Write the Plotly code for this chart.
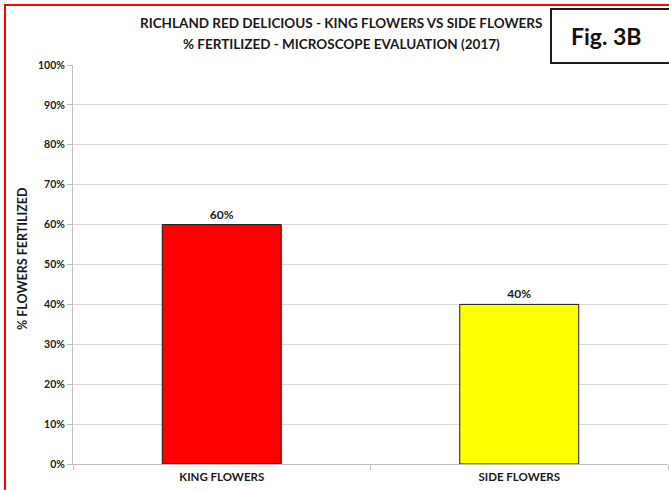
import plotly.graph_objects as go

categories = ["KING FLOWERS", "SIDE FLOWERS"]
pct_fertilized = [60, 40]
bar_colors = ["#ff0000", "#ffff00"]
y_ticks = [0, 10, 20, 30, 40, 50, 60, 70, 80, 90, 100]
title_lines = ["RICHLAND RED DELICIOUS - KING FLOWERS VS SIDE FLOWERS",
               "% FERTILIZED - MICROSCOPE EVALUATION (2017)"]
y_title = "% FLOWERS FERTILIZED"
fig_label = "Fig. 3B"

FONT = "Lato, 'Open Sans', Arial, sans-serif"
W, H = 669, 490
L, R, T, B = 73, 1, 65, 26
PW, PH = W - L - R, H - T - B


def px(x):
    return (x - L) / PW


def py(y):
    return (H - B - y) / PH


fig = go.Figure()
fig.add_trace(go.Bar(
    x=categories, y=pct_fertilized,
    marker=dict(color=bar_colors, line=dict(color="#1a1a1a", width=1)),
    width=0.40,
    text=[f"{v}%" for v in pct_fertilized],
    textposition="outside",
    textfont=dict(family=FONT, size=12, color="#1a1a1a", weight="bold"),
    cliponaxis=False,
    hoverinfo="skip",
))

shapes = [
    # red outer border
    dict(type="rect", xref="paper", yref="paper",
         x0=px(5), x1=px(720), y0=py(520), y1=py(5),
         line=dict(color="#ff0000", width=2), fillcolor="rgba(0,0,0,0)", layer="above"),
    # fig label box
    dict(type="rect", xref="paper", yref="paper",
         x0=px(551), x1=px(700), y0=py(63), y1=py(9),
         line=dict(color="#1a1a1a", width=2), fillcolor="white", layer="above"),
]

annotations = [
    dict(text=title_lines[0], x=px(341), y=py(23), xref="paper", yref="paper",
         showarrow=False, xanchor="center", yanchor="middle",
         font=dict(family=FONT, size=13.5, color="#1a1a1a", weight="bold")),
    dict(text=title_lines[1], x=px(341), y=py(44), xref="paper", yref="paper",
         showarrow=False, xanchor="center", yanchor="middle",
         font=dict(family=FONT, size=13.5, color="#1a1a1a", weight="bold")),
    dict(text=fig_label, x=px(606), y=py(36), xref="paper", yref="paper",
         showarrow=False, xanchor="center", yanchor="middle",
         font=dict(family=FONT, size=23, color="#111111", weight="bold")),
    dict(text=y_title, x=px(22), y=py(259), xref="paper", yref="paper",
         showarrow=False, xanchor="center", yanchor="middle", textangle=-90,
         font=dict(family=FONT, size=12.5, color="#1a1a1a", weight="bold")),
]

fig.update_layout(
    width=W, height=H,
    margin=dict(l=L, r=R, t=T, b=B, pad=0),
    paper_bgcolor="white", plot_bgcolor="white",
    showlegend=False,
    bargap=0.6,
    shapes=shapes,
    annotations=annotations,
    xaxis=dict(
        type="category", tickson="boundaries",
        showline=True, linecolor="#bfbfbf", linewidth=1,
        ticks="outside", ticklen=5, tickcolor="#bfbfbf",
        showgrid=False, zeroline=False,
        tickfont=dict(family=FONT, size=11.5, color="#1a1a1a", weight="bold"),
        ticklabelstandoff=2,
        fixedrange=True,
    ),
    yaxis=dict(
        range=[0, 100], tickvals=y_ticks,
        ticktext=[f"{v}%" for v in y_ticks],
        showline=True, linecolor="#bfbfbf", linewidth=1,
        ticks="outside", ticklen=5, tickcolor="#bfbfbf",
        showgrid=True, gridcolor="#d9d9d9", gridwidth=1,
        zeroline=False,
        tickfont=dict(family=FONT, size=10.5, color="#1a1a1a", weight="bold"),
        fixedrange=True,
    ),
)

fig.write_html("out.html", config={"displayModeBar": False})
